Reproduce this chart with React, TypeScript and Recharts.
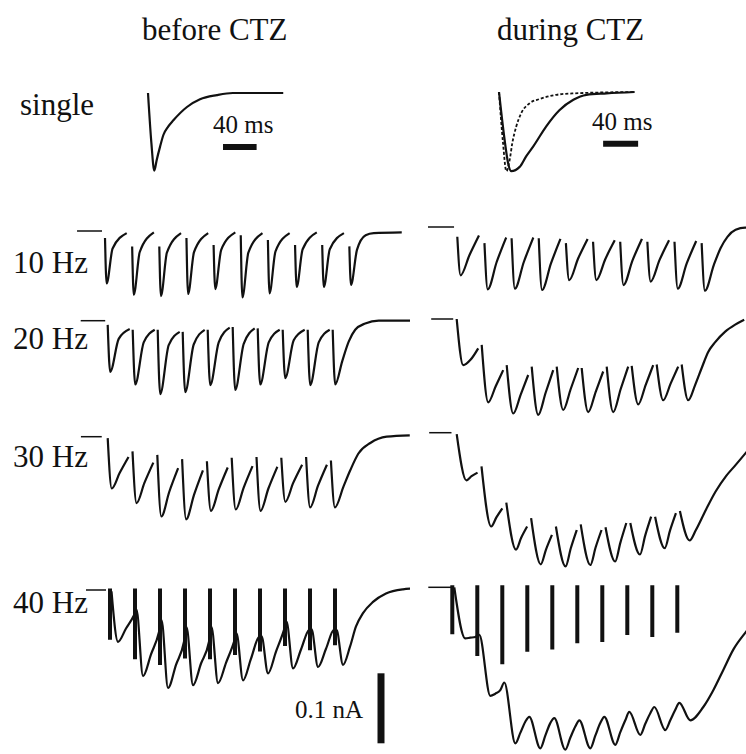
import { LineChart, Line, XAxis, YAxis } from 'recharts'

// current in pA (0 = baseline), time in ms from the first stimulus

// single EPSCs: [ms, pA]
const singleBefore = [
  [0, 0], [4, -71], [7.5, -111], [10.3, -96], [14.3, -77], [18.3, -60], [24, -48],
  [30.2, -39], [46.4, -20], [61.9, -9], [82, -3], [101, 0], [161, 0],
]
const singleDuring = [
  [0, 0], [2.3, -26], [6.9, -73], [10.3, -101], [14, -113], [23.6, -107],
  [31, -92], [39, -78], [54, -49], [69, -26], [85, -11], [100, -4], [123, -2], [155, 0],
]
const singleBeforeScaled = [
  [0, 0], [4.6, -73], [8.4, -113], [12.2, -97], [15.2, -73], [19.8, -49],
  [25.5, -30], [35, -16], [46.5, -10], [65.5, -4], [84.6, -2], [155, 0],
]

// 10 Hz
const tops10B = [-10, -22, -22, -10, -20, -6, -13, -20, -20, -22]
const troughs10B = [-75, -91, -93, -90, -83, -95, -89, -80, -80, -77]
const mids10B = [-25, -30, -31, -30, -27, -31, -29, -26, -26]
const ends10B = [-3, -2, -3, -3, -2, -3, -3, -2, -3]
const tail10B = [[28, -27], [60, -6], [90, -3], [193, -2]]

const tops10D = [-14, -23, -16, -16, -23, -21, -21, -21, -21, -23]
const troughs10D = [-69, -89, -88, -90, -76, -76, -83, -78, -88, -91]
const mids10D = [-40, -50, -50, -52, -45, -46, -48, -47, -52]
const ends10D = [-12, -15, -15, -17, -17, -19, -17, -19, -20]
const tail10D = [[45, -54], [70, -30], [95, -14], [125, -4], [160, -1], [175, -1]]

// 20 Hz
const tops20B = [-6, -13, -13, -16, -13, -9, -11, -13, -13, -13]
const troughs20B = [-73, -91, -105, -102, -92, -99, -91, -82, -92, -91]
const mids20B = [-26, -31, -35, -34, -31, -33, -31, -28, -31]
const ends20B = [-12, -13, -16, -13, -10, -11, -13, -13, -13]
const tail20B = [[19, -58], [32, -30], [45, -13], [65, -4], [92, 0], [155, 0]]

const tops20D = [0, -37, -66, -68, -68, -70, -68, -67, -65, -65]
const troughs20D = [-66, -119, -135, -137, -130, -133, -133, -122, -116, -116]
const mids20D = [-58, -96, -108, -105, -100, -104, -100, -94, -92]
const ends20D = [-42, -73, -80, -73, -70, -75, -68, -66, -68]
const tail20D = [[27, -94], [40, -70], [53, -47], [67, -33], [87, -18], [107, -8], [125, -1]]

// 30 Hz
const tops30B = [-2, -21, -26, -32, -35, -30, -29, -30, -29, -34]
const troughs30B = [-74, -95, -114, -118, -106, -104, -106, -93, -101, -101]
const mids30B = [-52, -66, -79, -83, -75, -73, -74, -66, -70]
const ends30B = [-29, -37, -45, -48, -44, -42, -43, -40, -40]
const tail30B = [[17, -71], [26, -48], [37, -24], [53, -9], [75, 0], [106, 2]]

const tops30D = [-2, -48, -100, -122, -134, -131, -135, -129, -120, -112]
const troughs30D = [-68, -134, -167, -188, -191, -189, -184, -174, -165, -154]
const mids30D = [-62, -121, -150, -167, -165, -164, -157, -147, -140]
const ends30D = [-57, -108, -134, -146, -139, -139, -129, -120, -115]
const tail30D = [[21.5, -139], [35, -110], [48, -84], [62, -62], [75, -46], [90, -27]]

// 40 Hz
const tops40B = [-2, -28, -43, -53, -53, -62, -66, -45, -56, -57]
const troughs40B = [-74, -123, -140, -136, -133, -129, -119, -112, -110, -107]
const mids40B = [-55, -92, -107, -105, -104, -98, -88, -85, -84]
const ends40B = [-36, -60, -74, -74, -74, -67, -57, -57, -57]
const tail40B = [[15, -81], [21, -52], [28, -33], [38, -17], [51, -5], [68, 1], [76, 2]]
const artifacts40B = [-71, -99, -107, -98, -99, -93, -88, -80, -86, -79]

const tops40D = [0, -68, -136, -185, -187, -190, -185, -178, -171, -165]
const troughs40D = [-73, -155, -223, -230, -232, -230, -225, -211, -204, -190]
const mids40D = [-72, -152, -208, -212, -215, -212, -207, -195, -190]
const ends40D = [-71, -147, -192, -194, -199, -194, -190, -180, -175]
const tail40D = [[26, -171], [36, -147], [46, -118], [56, -89], [69, -63], [75, -52]]
const artifacts40D = [-67, -98, -110, -92, -89, -80, -78, -68, -71, -65]

const SCALE_MS = 40
const SCALE_PA = 100

const PX_PER_PA = 0.7
const INK = '#111'
const SERIF = 'Liberation Serif, Times New Roman, serif'

type Row = { t: number; v: number | null }

const pairs = (pts: number[][]): Row[] => pts.map(([t, v]) => ({ t, v }))

function train(
  period: number,
  timing: { top: number; trough: number; mid: number; end: number },
  tops: number[],
  troughs: number[],
  mids: number[],
  ends: number[],
  tail: number[][],
  gap: boolean,
): Row[] {
  const rows: Row[] = []
  tops.forEach((top, i) => {
    const t0 = i * period
    rows.push({ t: t0 + timing.top, v: top })
    rows.push({ t: t0 + timing.trough, v: troughs[i] })
    if (i < tops.length - 1) {
      rows.push({ t: t0 + timing.mid, v: mids[i] })
      rows.push({ t: t0 + timing.end, v: ends[i] })
      if (gap) rows.push({ t: t0 + timing.end + 0.5, v: null })
    } else {
      tail.forEach(([dt, v]) => rows.push({ t: t0 + dt, v }))
    }
  })
  return rows
}

function artifacts(period: number, top: number, bottoms: number[]): Row[] {
  const rows: Row[] = []
  bottoms.forEach((b, i) => {
    rows.push({ t: i * period, v: top })
    rows.push({ t: i * period, v: b })
    rows.push({ t: i * period + 0.1, v: null })
  })
  return rows
}

const segment = (t1: number, v1: number, t2: number, v2: number): Row[] => [
  { t: t1, v: v1 },
  { t: t2, v: v2 },
]

type Series = { data: Row[]; width?: number; dash?: string; linear?: boolean }

type PanelProps = {
  left: number
  top: number
  width: number
  height: number
  x0: number
  y0: number
  pxPerMs: number
  series: Series[]
}

function Panel({ left, top, width, height, x0, y0, pxPerMs, series }: PanelProps) {
  const tMin = (left - x0) / pxPerMs
  const tMax = (left + width - x0) / pxPerMs
  const vMax = (y0 - top) / PX_PER_PA
  const vMin = -(top + height - y0) / PX_PER_PA
  return (
    <div style={{ position: 'absolute', left, top }}>
      <LineChart width={width} height={height} margin={{ top: 0, right: 0, bottom: 0, left: 0 }}>
        <XAxis type='number' dataKey='t' domain={[tMin, tMax]} hide allowDataOverflow />
        <YAxis type='number' domain={[vMin, vMax]} hide allowDataOverflow />
        {series.map((s, i) => (
          <Line
            key={i}
            data={s.data}
            dataKey='v'
            type={s.linear ? 'linear' : 'monotone'}
            stroke={INK}
            strokeWidth={s.width ?? 2.2}
            strokeDasharray={s.dash}
            strokeLinejoin='round'
            dot={false}
            activeDot={false}
            connectNulls={false}
            isAnimationActive={false}
          />
        ))}
      </LineChart>
    </div>
  )
}

const marker = (a: number, b: number): Series => ({ data: segment(a, 0, b, 0), width: 1.5, linear: true })

export default function App() {
  const t10 = { top: 0, trough: 6, mid: 28, end: 80 }
  const t10d = { top: 0, trough: 12, mid: 45, end: 80 }
  const t20 = { top: 0, trough: 5, mid: 22, end: 44 }
  const t20d = { top: 0, trough: 13, mid: 28, end: 43 }
  const t30 = { top: 0, trough: 5.4, mid: 16, end: 28 }
  const t30d = { top: 0, trough: 13, mid: 20, end: 28 }
  const t40 = { top: 1.5, trough: 8, mid: 16, end: 24 }
  const t40d = { top: 2, trough: 13, mid: 18, end: 23 }

  const labels = [
    { text: 'before CTZ', x: 142, y: 40, size: 31 },
    { text: 'during CTZ', x: 497, y: 40, size: 31 },
    { text: 'single', x: 20, y: 115, size: 31 },
    { text: '10 Hz', x: 13, y: 273, size: 31 },
    { text: '20 Hz', x: 13, y: 349, size: 31 },
    { text: '30 Hz', x: 13, y: 467, size: 31 },
    { text: '40 Hz', x: 13, y: 613, size: 31 },
    { text: '40 ms', x: 213, y: 133, size: 25 },
    { text: '40 ms', x: 592, y: 130, size: 25 },
    { text: '0.1 nA', x: 295, y: 718, size: 25 },
  ]

  return (
    <div style={{ position: 'absolute', left: 0, top: 0, width: 746, height: 754, background: '#fff', overflow: 'hidden' }}>
      <Panel
        left={140} top={80} width={150} height={100} x0={148} y0={93} pxPerMs={0.84}
        series={[
          { data: pairs(singleBefore) },
          { data: segment(89.3, -77, 89.3 + SCALE_MS, -77), width: 6, linear: true },
        ]}
      />
      <Panel
        left={490} top={80} width={160} height={100} x0={499} y0={92} pxPerMs={0.875}
        series={[
          { data: pairs(singleBeforeScaled), dash: '3 2', width: 1.8 },
          { data: pairs(singleDuring) },
          { data: segment(119, -74, 119 + SCALE_MS, -74), width: 6, linear: true },
        ]}
      />

      <Panel
        left={70} top={220} width={340} height={85} x0={105} y0={231} pxPerMs={0.2715}
        series={[marker(-103, -11), { data: train(100, t10, tops10B, troughs10B, mids10B, ends10B, tail10B, true) }]}
      />
      <Panel
        left={420} top={215} width={326} height={85} x0={457.3} y0={227} pxPerMs={0.2715}
        series={[marker(-108, -12), { data: train(100, t10d, tops10D, troughs10D, mids10D, ends10D, tail10D, true) }]}
      />

      <Panel
        left={70} top={310} width={340} height={95} x0={107.7} y0={320.7} pxPerMs={0.5}
        series={[marker(-54, -5), { data: train(50, t20, tops20B, troughs20B, mids20B, ends20B, tail20B, true) }]}
      />
      <Panel
        left={420} top={305} width={326} height={115} x0={456.7} y0={319} pxPerMs={0.5}
        series={[marker(-51, -7), { data: train(50, t20d, tops20D, troughs20D, mids20D, ends20D, tail20D, true) }]}
      />

      <Panel
        left={70} top={425} width={340} height={100} x0={107.7} y0={436.7} pxPerMs={0.744}
        series={[marker(-36, -8), { data: train(100 / 3, t30, tops30B, troughs30B, mids30B, ends30B, tail30B, true) }]}
      />
      <Panel
        left={420} top={420} width={326} height={155} x0={456.7} y0={432.7} pxPerMs={0.744}
        series={[marker(-37, -7), { data: train(100 / 3, t30d, tops30D, troughs30D, mids30D, ends30D, tail30D, true) }]}
      />

      <Panel
        left={70} top={578} width={340} height={176} x0={110} y0={590} pxPerMs={1}
        series={[
          marker(-24, -4),
          { data: train(25, t40, tops40B, troughs40B, mids40B, ends40B, tail40B, false) },
          { data: artifacts(25, 2, artifacts40B), width: 4, linear: true },
          { data: segment(271, -119, 271, -119 - SCALE_PA), width: 7, linear: true },
        ]}
      />
      <Panel
        left={420} top={576} width={326} height={178} x0={452.3} y0={587.3} pxPerMs={1}
        series={[
          marker(-24, 1),
          { data: train(25, t40d, tops40D, troughs40D, mids40D, ends40D, tail40D, false) },
          { data: artifacts(25, 3, artifacts40D), width: 4, linear: true },
        ]}
      />

      <svg width={746} height={754} style={{ position: 'absolute', left: 0, top: 0, pointerEvents: 'none' }}>
        {labels.map((l, i) => (
          <text key={i} x={l.x} y={l.y} fontFamily={SERIF} fontSize={l.size} fill={INK}>
            {l.text}
          </text>
        ))}
      </svg>
    </div>
  )
}
